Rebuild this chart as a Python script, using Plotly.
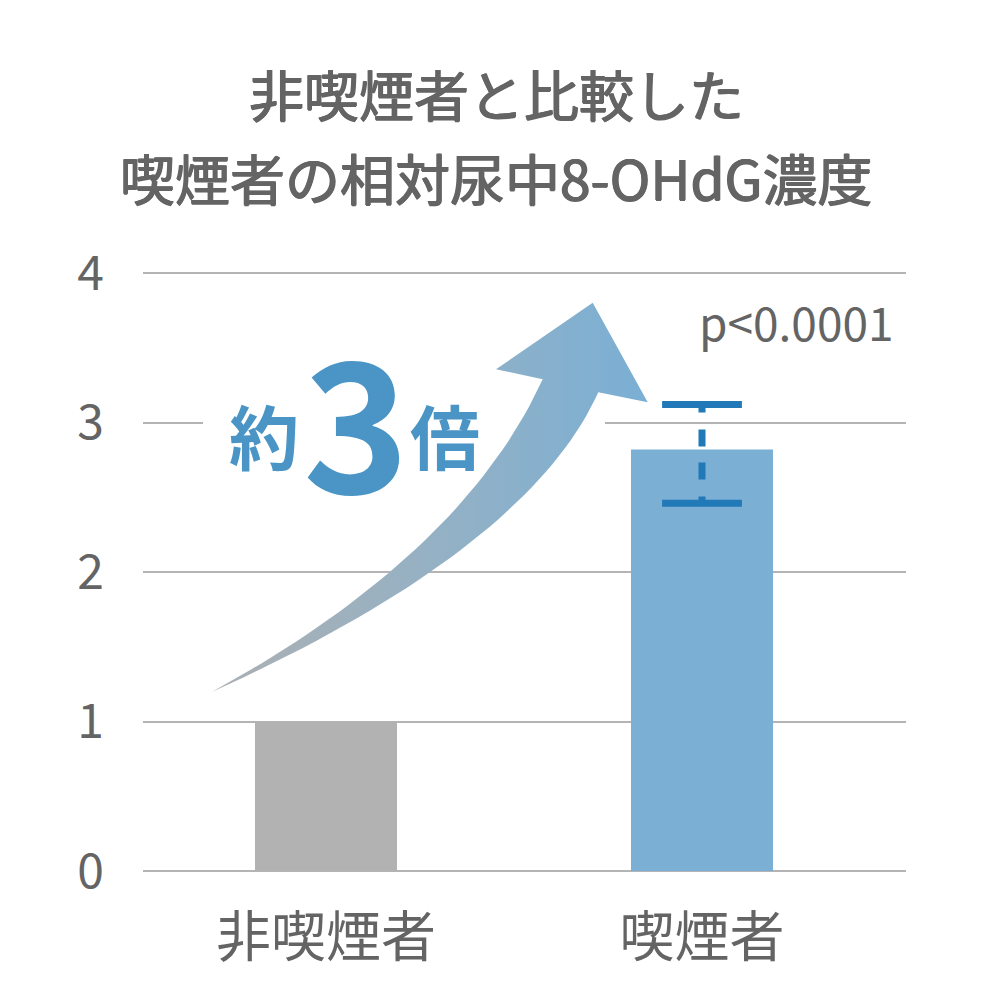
import numpy as np
import plotly.graph_objects as go

# --- data ---
categories = ["非喫煙者", "喫煙者"]
ratio = [1.0, 2.82]          # relative urinary 8-OHdG (non-smokers = 1)
err_plus = [0.0, 0.30]
err_minus = [0.0, 0.36]
y_ticks = [0, 1, 2, 3, 4]
title_lines = ["非喫煙者と比較した", "喫煙者の相対尿中8-OHdG濃度"]
p_label = "p<0.0001"
fold_label = ["約", "3", "倍"]

# --- styling ---
FONT = "Noto Sans CJK JP"
TEXT_GRAY = "#646464"
GRID_GRAY = "#b4b4b4"
BAR_COLORS = ["#b2b2b2", "#7bafd4"]
ERR_BLUE = "#2179b8"
FOLD_BLUE = "#4a95c6"

# pixel frame of the plot area (used only for decorations)
X0_PX, X_STEP = 326, 376      # x=0 at 326px, one category = 376px
Y0_PX, Y_STEP = 871, 149.5    # y=0 at 871px, one unit = 149.5px
W = H = 992


def px2data(px, py):
    return (px - X0_PX) / X_STEP, (Y0_PX - py) / Y_STEP


def quad(p0, c, p2, n=40):
    t = np.linspace(0, 1, n)[:, None]
    p0, c, p2 = map(np.array, (p0, c, p2))
    return (1 - t) ** 2 * p0 + 2 * t * (1 - t) * c + t ** 2 * p2


x_vals = list(range(len(categories)))
x_lo, x_hi = px2data(143, 0)[0], px2data(906, 0)[0]
y_lo, y_hi = -0.02, 4.02
top_px = Y0_PX - y_hi * Y_STEP
bot_px = Y0_PX - y_lo * Y_STEP

fig = go.Figure()

# white patch behind the "約3倍" label (hides the gridline, sits under the arrow)
rx0, ry0 = px2data(203, 470)
rx1, ry1 = px2data(605, 385)
fig.add_shape(type="rect", x0=rx0, y0=ry0, x1=rx1, y1=ry1, layer="between",
              fillcolor="white", line=dict(width=0))

fig.add_trace(go.Bar(
    x=x_vals, y=ratio, width=142 / X_STEP,
    marker=dict(color=BAR_COLORS, line=dict(width=0)),
    showlegend=False, hoverinfo="skip",
))

# curved arrow (decoration), built in pixel space then mapped to data
tail = (211.7, 692.0)
upper = quad(tail, (462.8, 554.4), (542.7, 379.3))
lower = quad((598.3, 392.3), (527.0, 549.8), tail)
head = np.array([(496.0, 369.3), (592.7, 302.7), (647.7, 402.3)])
outline = np.vstack([upper, head, lower])
ax, ay = px2data(outline[:, 0], outline[:, 1])
fig.add_trace(go.Scatter(
    x=ax, y=ay, mode="lines", fill="toself",
    line=dict(width=0, color="rgba(0,0,0,0)"),
    fillgradient=dict(type="horizontal",
                      colorscale=[[0, "#acb0b3"], [0.5, "#95b1c4"], [1, "#7aafd4"]]),
    showlegend=False, hoverinfo="skip",
))

# error bar for the smokers bar: dashed stem + caps
i = 1
hi = ratio[i] + err_plus[i]
lo = ratio[i] - err_minus[i]
fig.add_trace(go.Scatter(
    x=[x_vals[i], x_vals[i]], y=[hi, lo], mode="lines",
    line=dict(color=ERR_BLUE, width=7, dash="8px,17px,17px,16px,17px,17px,7px"),
    showlegend=False, hoverinfo="skip",
))
fig.add_trace(go.Scatter(
    x=[x_vals[i], x_vals[i]], y=[hi, lo], mode="markers",
    marker=dict(symbol="line-ew", size=57, line=dict(color=ERR_BLUE, width=7)),
    showlegend=False, hoverinfo="skip",
))


def paper(px, py):
    return (px - 143) / (906 - 143), (bot_px - py) / (bot_px - top_px)


# regular weight thickened a little, to get the medium-looking title
title_shadow = f"0.7px 0 0 {TEXT_GRAY}, -0.7px 0 0 {TEXT_GRAY}, 0 0.5px 0 {TEXT_GRAY}"

annotations = []
for text, cy in zip(title_lines, [92, 176]):
    px_, py_ = paper(W / 2, cy)
    annotations.append(dict(text=text, x=px_, y=py_, xref="paper", yref="paper",
                            showarrow=False, xanchor="center", yanchor="middle",
                            font=dict(family=FONT, size=55, color=TEXT_GRAY,
                                      shadow=title_shadow)))

for text, (cx, cy), size in zip(fold_label, [(264, 435), (356, 415), (445, 435)], [70, 180, 70]):
    px_, py_ = paper(cx, cy)
    annotations.append(dict(text=f"<b>{text}</b>", x=px_, y=py_, xref="paper", yref="paper",
                            showarrow=False, xanchor="center", yanchor="middle",
                            font=dict(family=FONT, size=size, color=FOLD_BLUE)))

px_, py_ = paper(796, 321)
annotations.append(dict(text=p_label, x=px_, y=py_, xref="paper", yref="paper",
                        showarrow=False, xanchor="center", yanchor="middle",
                        font=dict(family=FONT, size=46, color=TEXT_GRAY)))

fig.update_layout(
    width=W, height=H,
    margin=dict(l=143, r=W - 906, t=top_px, b=H - bot_px, pad=0),
    plot_bgcolor="white", paper_bgcolor="white",
    annotations=annotations,
    showlegend=False,
    xaxis=dict(range=[x_lo, x_hi], tickvals=x_vals, ticktext=categories,
               showgrid=False, zeroline=False, showline=False, ticks="",
               ticklabelstandoff=26,
               tickfont=dict(family=FONT, size=55, color=TEXT_GRAY)),
    yaxis=dict(range=[y_lo, y_hi], tickvals=y_ticks, showgrid=True,
               gridcolor=GRID_GRAY, gridwidth=2, zeroline=False, showline=False,
               ticks="", ticklabelstandoff=38,
               tickfont=dict(family=FONT, size=48, color=TEXT_GRAY)),
)

fig.write_html("out.html", config={"displayModeBar": False},
               post_script="document.body.style.margin='0';")
